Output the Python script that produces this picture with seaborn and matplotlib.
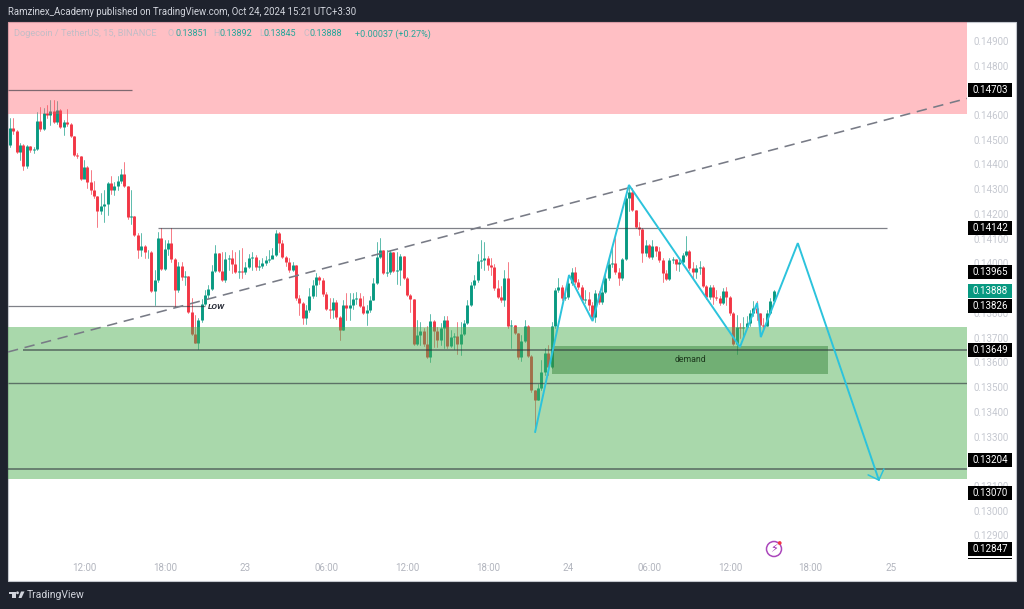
"""DOGE/USDT 15m TradingView snapshot with zones and a projected path."""
import numpy as np
import pandas as pd
import matplotlib
matplotlib.use("Agg")
import matplotlib.pyplot as plt
from matplotlib.patches import Rectangle, Polygon, Ellipse
import seaborn as sns

# prices in ticks of 0.00001, bar 0 = Oct 22 12:00, one bar = 15 minutes
FIRST_BAR = -22
FIRST_OPEN = 14479
closes = [
    14547, 14535, 14450, 14479, 14394, 14475, 14458, 14463, 14575, 14543, 14608, 14600, 14616, 14571, 14620, 14551,
    14571, 14563, 14515, 14438, 14434, 14341, 14390, 14329, 14297, 14273, 14212, 14232, 14240, 14325, 14297, 14313,
    14333, 14361, 14313, 14188, 14192, 14115, 14054, 14070, 14046, 14046, 13888, 13933, 14103, 13977, 14058, 14082,
    14018, 13892, 13990, 13945, 13949, 13803, 13715, 13678, 13771, 13836, 13872, 13896, 13969, 14042, 13969, 13933,
    14018, 14022, 13998, 13965, 13969, 13965, 13985, 14022, 14026, 13985, 13990, 14002, 14014, 14018, 14034, 14123,
    14082, 14026, 14006, 13973, 13993, 13860, 13840, 13779, 13811, 13868, 13913, 13945, 13933, 13876, 13815, 13811,
    13844, 13783, 13731, 13832, 13820, 13832, 13856, 13860, 13828, 13799, 13811, 13852, 13921, 14026, 14054, 13961,
    13965, 14046, 13969, 13973, 14030, 13941, 13872, 13856, 13674, 13711, 13727, 13674, 13622, 13767, 13727, 13690,
    13739, 13771, 13666, 13702, 13706, 13674, 13715, 13759, 13832, 13913, 13933, 14010, 14014, 14022, 13993, 13985,
    13900, 13864, 13852, 13941, 13747, 13751, 13719, 13622, 13686, 13747, 13626, 13488, 13448, 13496, 13561, 13638,
    13581, 13747, 13892, 13904, 13860, 13864, 13921, 13965, 13925, 13904, 13852, 13856, 13832, 13783, 13880, 13844,
    13884, 13941, 13998, 14002, 13965, 13941, 14018, 14265, 14289, 14216, 14147, 14139, 14042, 14074, 14026, 14070,
    14050, 14014, 13961, 13937, 14014, 14018, 13998, 14006, 14034, 14050, 13981, 13965, 13981, 13985, 13909, 13864,
    13904, 13864, 13860, 13840, 13888, 13864, 13799, 13674, 13743, 13739, 13743, 13759, 13799, 13820, 13799, 13751,
    13747, 13799, 13848, 13888,
]
highs = [
    14588, 14588, 14539, 14487, 14483, 14479, 14475, 14471, 14612, 14632, 14628, 14640, 14660, 14660, 14656, 14624,
    14579, 14624, 14567, 14515, 14446, 14434, 14418, 14394, 14377, 14333, 14273, 14285, 14297, 14329, 14353, 14329,
    14353, 14381, 14410, 14313, 14297, 14192, 14123, 14123, 14074, 14054, 14050, 13973, 14127, 14143, 14094, 14094,
    14143, 14022, 14006, 14006, 13969, 13949, 13860, 13791, 13779, 13856, 13892, 13913, 13993, 14074, 14042, 14046,
    14046, 14034, 14054, 14046, 14054, 14062, 14006, 14038, 14046, 14034, 14014, 14022, 14030, 14054, 14062, 14135,
    14127, 14094, 14030, 14022, 14006, 13993, 13872, 13844, 13832, 13900, 13933, 13961, 13949, 13941, 13884, 13860,
    13860, 13852, 13787, 13852, 13880, 13880, 13880, 13884, 13880, 13868, 13832, 13868, 13941, 14086, 14103, 14054,
    14054, 14054, 14046, 14046, 14038, 14030, 13945, 13876, 13856, 13771, 13763, 13739, 13747, 13795, 13771, 13743,
    13759, 13787, 13787, 13731, 13719, 13763, 13763, 13771, 13852, 13925, 13953, 14038, 14094, 14086, 14030, 14022,
    13998, 13933, 13909, 13973, 14006, 13771, 13751, 13719, 13711, 13771, 13751, 13630, 13488, 13512, 13609, 13658,
    13670, 13763, 13900, 13941, 13913, 13892, 13941, 13981, 13985, 13937, 13913, 13892, 13884, 13844, 13892, 13888,
    13913, 13965, 14022, 14062, 14103, 13981, 14022, 14285, 14313, 14305, 14216, 14167, 14143, 14094, 14078, 14094,
    14070, 14066, 14022, 13973, 14022, 14026, 14018, 14022, 14042, 14110, 14054, 14006, 13993, 14010, 13990, 13913,
    13913, 13913, 13892, 13868, 13900, 13904, 13868, 13803, 13791, 13759, 13783, 13787, 13811, 13848, 13848, 13799,
    13779, 13811, 13860, 13892,
]
lows = [
    14471, 14523, 14446, 14418, 14377, 14386, 14450, 14446, 14458, 14535, 14539, 14588, 14559, 14567, 14563, 14547,
    14519, 14555, 14511, 14434, 14426, 14337, 14377, 14305, 14281, 14265, 14147, 14200, 14167, 14196, 14281, 14277,
    14297, 14325, 14309, 14180, 14159, 14110, 14022, 14030, 14022, 14022, 13884, 13832, 13925, 13973, 13973, 14034,
    14006, 13824, 13884, 13933, 13913, 13799, 13711, 13678, 13654, 13763, 13832, 13860, 13892, 13965, 13965, 13929,
    13925, 13973, 13961, 13961, 13941, 13941, 13957, 13981, 13973, 13973, 13973, 13981, 13993, 14006, 14022, 14030,
    14046, 14022, 13990, 13965, 13969, 13852, 13791, 13755, 13755, 13803, 13860, 13868, 13917, 13868, 13811, 13779,
    13779, 13775, 13690, 13731, 13771, 13771, 13815, 13836, 13824, 13795, 13751, 13803, 13852, 13917, 14022, 13957,
    13949, 13957, 13965, 13917, 13913, 13937, 13868, 13803, 13670, 13670, 13670, 13666, 13618, 13601, 13662, 13662,
    13670, 13658, 13658, 13662, 13654, 13634, 13630, 13711, 13755, 13828, 13900, 13925, 13981, 13973, 13973, 13953,
    13892, 13860, 13844, 13828, 13739, 13658, 13715, 13614, 13605, 13682, 13622, 13480, 13318, 13448, 13488, 13549,
    13549, 13577, 13739, 13884, 13852, 13852, 13856, 13913, 13917, 13896, 13844, 13840, 13811, 13771, 13763, 13836,
    13836, 13880, 13933, 13985, 13957, 13913, 13933, 14014, 14212, 14212, 14143, 14115, 14006, 14030, 14022, 14018,
    14030, 14006, 13925, 13933, 13933, 14002, 13973, 13969, 13993, 14030, 13973, 13937, 13941, 13957, 13904, 13856,
    13856, 13836, 13852, 13832, 13836, 13832, 13791, 13670, 13634, 13698, 13702, 13739, 13747, 13787, 13771, 13739,
    13731, 13747, 13795, 13840,
]

price_ticks = [0.129 + 0.001 * k for k in range(21)]
time_ticks = [0, 24, 48, 72, 96, 120, 144, 168, 192, 216, 240]
time_labels = ["12:00", "18:00", "23", "06:00", "12:00", "18:00", "24", "06:00", "12:00", "18:00", "25"]

pink_zone = (0.14606, 0.14976)
green_zone = (0.13128, 0.13742)
demand_box = (139.0, 221.3, 0.13553, 0.13666)

# level, first bar, last bar, grey, width
level_prices = [0.14703, 0.14142, 0.13826, 0.13649, 0.13516, 0.13169]
level_starts = [-22.6, 22.0, -22.6, -18.0, -22.6, -22.6]
level_ends = [14.2, 238.6, 36.0, 262.5, 262.5, 262.5]
level_widths = [0.9, 0.9, 0.9, 1.2, 1.0, 1.2]

trend_bars = [-22.6, 262.5]
trend_prices = [0.13642, 0.14667]
path_bars = [134.1, 144.2, 151.2, 162.0, 195.0, 200.1, 201.2, 212.2, 236.3]
path_prices = [0.13318, 0.13953, 0.13767, 0.14317, 0.13662, 0.13840, 0.13702, 0.14082, 0.13124]
head_bars = [233.1, 236.3, 237.8]
head_prices = [0.13145, 0.13124, 0.13169]

tag_prices = [0.14703, 0.14142, 0.13965, 0.13826, 0.13888, 0.13649, 0.13204, 0.13070, 0.12847]
tag_colors = ["#000000"] * 3 + ["#000000", "#089981"] + ["#000000"] * 4

UP = "#089981"
DOWN = "#f23645"
BG = "#1e222d"
W, H = 1024, 609


def fx(x):
    return x / W


def fy(y):
    return 1 - y / H


def dot(fig, x, y, r, **kws):
    fig.add_artist(Ellipse((fx(x), fy(y)), 2 * r / W, 2 * r / H, transform=fig.transFigure, **kws))


def candle_frames():
    c = np.array(closes) / 1e5
    o = np.r_[FIRST_OPEN / 1e5, c[:-1]]
    bars = FIRST_BAR + np.arange(len(c))
    side = np.where(c >= o, "up", "down")
    body = pd.concat([pd.DataFrame({"bar": bars, "price": o, "side": side}),
                      pd.DataFrame({"bar": bars, "price": c, "side": side})])
    wick = pd.concat([pd.DataFrame({"bar": bars, "price": np.array(lows) / 1e5, "side": side}),
                      pd.DataFrame({"bar": bars, "price": np.array(highs) / 1e5, "side": side})])
    return body, wick


def add_logo(fig):
    col = "#d1d4dc"
    for pts in (
        [(8.5, 591.5), (15.5, 591.5), (15.5, 598), (11.5, 598), (11.5, 594.2), (8.5, 594.2)],
        [(18.5, 598), (21, 591.5), (24.5, 591.5), (21.5, 598)],
    ):
        fig.add_artist(Polygon([(fx(x), fy(y)) for x, y in pts], closed=True, color=col, lw=0,
                               transform=fig.transFigure, zorder=5))
    dot(fig, 17.5, 592.8, 1.4, color=col, lw=0, zorder=5)
    fig.text(fx(27), fy(595), "TradingView", color=col, fontsize=7.5, va="center", ha="left")


def main():
    sns.set_theme(style="white")
    plt.rcParams["font.family"] = ["Roboto", "DejaVu Sans"]

    fig = plt.figure(figsize=(W / 100, H / 100), dpi=100, facecolor=BG)
    fig.add_artist(Rectangle((fx(8), fy(581)), 1008 / W, 559 / H, facecolor="white", edgecolor="#c4c7ce",
                             lw=0.8, transform=fig.transFigure, zorder=-1))
    ax = fig.add_axes([fx(8), fy(581), 959 / W, 559 / H])
    ax.patch.set_alpha(0)

    body, wick = candle_frames()
    palette = {"up": UP, "down": DOWN}
    sns.lineplot(data=wick, x="bar", y="price", hue="side", units="bar", estimator=None, sort=False,
                 palette=palette, legend=False, lw=0.65, alpha=0.7, ax=ax, zorder=2)
    sns.lineplot(data=body, x="bar", y="price", hue="side", units="bar", estimator=None, sort=False,
                 palette=palette, legend=False, lw=2.1, solid_capstyle="butt", ax=ax, zorder=3)

    ax.axhspan(*pink_zone, color="#ff4f5e", alpha=0.36, lw=0, zorder=4)
    ax.axhspan(*green_zone, color="#4caf50", alpha=0.48, lw=0, zorder=4)
    x0, x1, y0, y1 = demand_box
    ax.add_patch(Rectangle((x0, y0), x1 - x0, y1 - y0, color="#2e7d32", alpha=0.45, lw=0, zorder=4.5))
    ax.text((x0 + x1) / 2, (y0 + y1) / 2, "demand", fontsize=6.3, color="#1e3a1f", ha="center", va="center", zorder=7)

    for p, a, b, lw in zip(level_prices, level_starts, level_ends, level_widths):
        ax.plot([a, b], [p, p], color="#2a2e39", alpha=0.6, lw=lw, solid_capstyle="butt", zorder=5)
    ax.text(39.5, 0.13826, "LOW", fontsize=6, style="italic", weight="bold", color="#2a2e39",
            ha="center", va="center", zorder=7)
    ax.plot(trend_bars, trend_prices, color="#787b86", lw=1.15, dashes=(6.5, 4.2), zorder=5)
    ax.plot(path_bars, path_prices, color="#2cc3dc", lw=1.4, solid_joinstyle="miter", zorder=6)
    ax.plot(head_bars, head_prices, color="#2cc3dc", lw=1.1, zorder=6)

    ax.set_xlim(-22.6, 262.5)
    ax.set_ylim(0.12716, 0.14976)
    ax.set_xlabel("")
    ax.set_ylabel("")
    ax.yaxis.tick_right()
    ax.set_yticks(price_ticks)
    ax.set_yticklabels([f"{p:.5f}" for p in price_ticks])
    ax.set_xticks(time_ticks)
    ax.set_xticklabels(time_labels)
    ax.tick_params(axis="y", length=0, pad=5, labelsize=7, labelcolor="#c5c8d0")
    ax.tick_params(axis="x", length=0, pad=-13.2, labelsize=7, labelcolor="#b2b5be")
    sns.despine(ax=ax, left=True, bottom=True, top=True, right=True)

    # price tags on the scale
    trans = ax.get_yaxis_transform()
    tag_h = 14 * 4.042e-5
    for p, col in zip(tag_prices, tag_colors):
        ax.add_patch(Rectangle((1.0006, p - tag_h / 2), 44.6 / 959, tag_h, facecolor=col, lw=0, transform=trans,
                               clip_on=False, zorder=8))
        ax.text(1.0245, p, f"{p:.5f}", transform=trans, color="white", fontsize=7, ha="center", va="center",
                clip_on=False, zorder=9)
    ax.add_patch(Rectangle((1.0006, 0.12847 - 9 * 4.042e-5 - tag_h * 0.1), 44.6 / 959, tag_h * 0.1, facecolor="#000000",
                           lw=0, transform=trans, clip_on=False, zorder=8))

    # lightning badge
    dot(fig, 774, 549, 7.5, facecolor="white", edgecolor="#ab47bc", lw=1.1, zorder=6)
    fig.text(fx(774), fy(549), "\u26a1", color="#9c27b0", fontsize=8, ha="center", va="center",
             family=["DejaVu Sans"], zorder=7)
    dot(fig, 779.7, 543, 1.9, color="#f23645", lw=0, zorder=8)

    fig.text(fx(8), fy(12), "Ramzinex_Academy published on TradingView.com, Oct 24, 2024 15:21 UTC+3:30",
             color="#d1d4dc", fontsize=6.95, ha="left", va="center")

    # legend line over the pink zone
    grey = "#c3bdc6"
    teal = "#26a69a"
    ax_y = fy(34)
    fig.text(fx(14), ax_y, "Dogecoin / TetherUS, 15, BINANCE", color=grey, fontsize=6.7, ha="left", va="center")
    for letter, lx, value, vx in (("O", 168, "0.13851", 175), ("H", 213, "0.13892", 220),
                                  ("L", 259, "0.13845", 264), ("C", 304, "0.13888", 310)):
        fig.text(fx(lx), ax_y, letter, color=grey, fontsize=6.5, ha="left", va="center")
        fig.text(fx(vx), ax_y, value, color=teal, fontsize=6.5, ha="left", va="center")
    fig.text(fx(355), ax_y, "+0.00037 (+0.27%)", color=teal, fontsize=6.5, ha="left", va="center")

    add_logo(fig)
    fig.savefig("out.png", dpi=100, facecolor=BG)
    plt.close(fig)


if __name__ == "__main__":
    main()
